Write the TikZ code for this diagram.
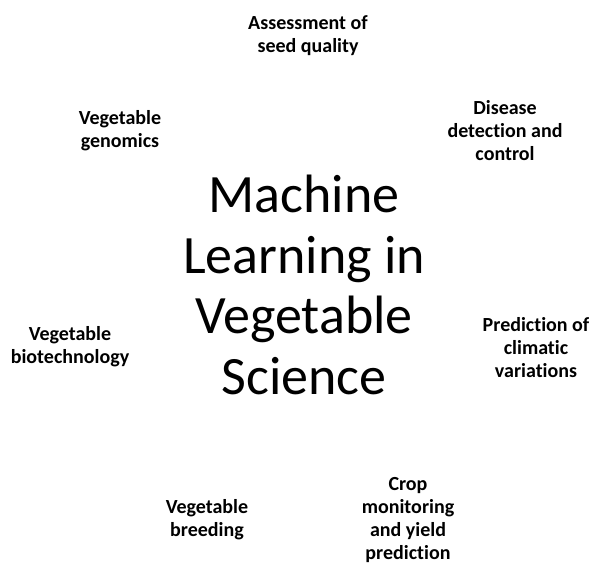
\documentclass[tikz,border=0pt]{standalone}
\usepackage{fontspec}
\setmainfont[Ligatures=NoCommon]{Carlito}
\usepackage{tikz}

\begin{document}
\begin{tikzpicture}[x=1pt,y=-1pt,
    topic/.style={black,align=center,inner sep=0pt,font=\bfseries\fontsize{20}{23}\selectfont},
    hub/.style={black,align=center,inner sep=0pt,font=\fontsize{54}{60.5}\selectfont}]
            \useasboundingbox (0,0) rectangle (590,566);
            \node[hub] (ml) at (304,285) {Machine\\Learning in\\Vegetable\\Science};
            \node[topic] (seed) at (308,36) {Assessment of\\seed quality};
            \node[topic] (disease) at (505,131) {Disease\\detection and\\control};
            \node[topic] (climate) at (536,348) {Prediction of\\climatic\\variations};
            \node[topic] (crop) at (408,520) {Crop\\monitoring\\and yield\\prediction};
            \node[topic] (breeding) at (207,520) {Vegetable\\breeding};
            \node[topic] (biotech) at (70,347) {Vegetable\\biotechnology};
            \node[topic] (genomics) at (120,131) {Vegetable\\genomics};
        \end{tikzpicture}
\end{document}
